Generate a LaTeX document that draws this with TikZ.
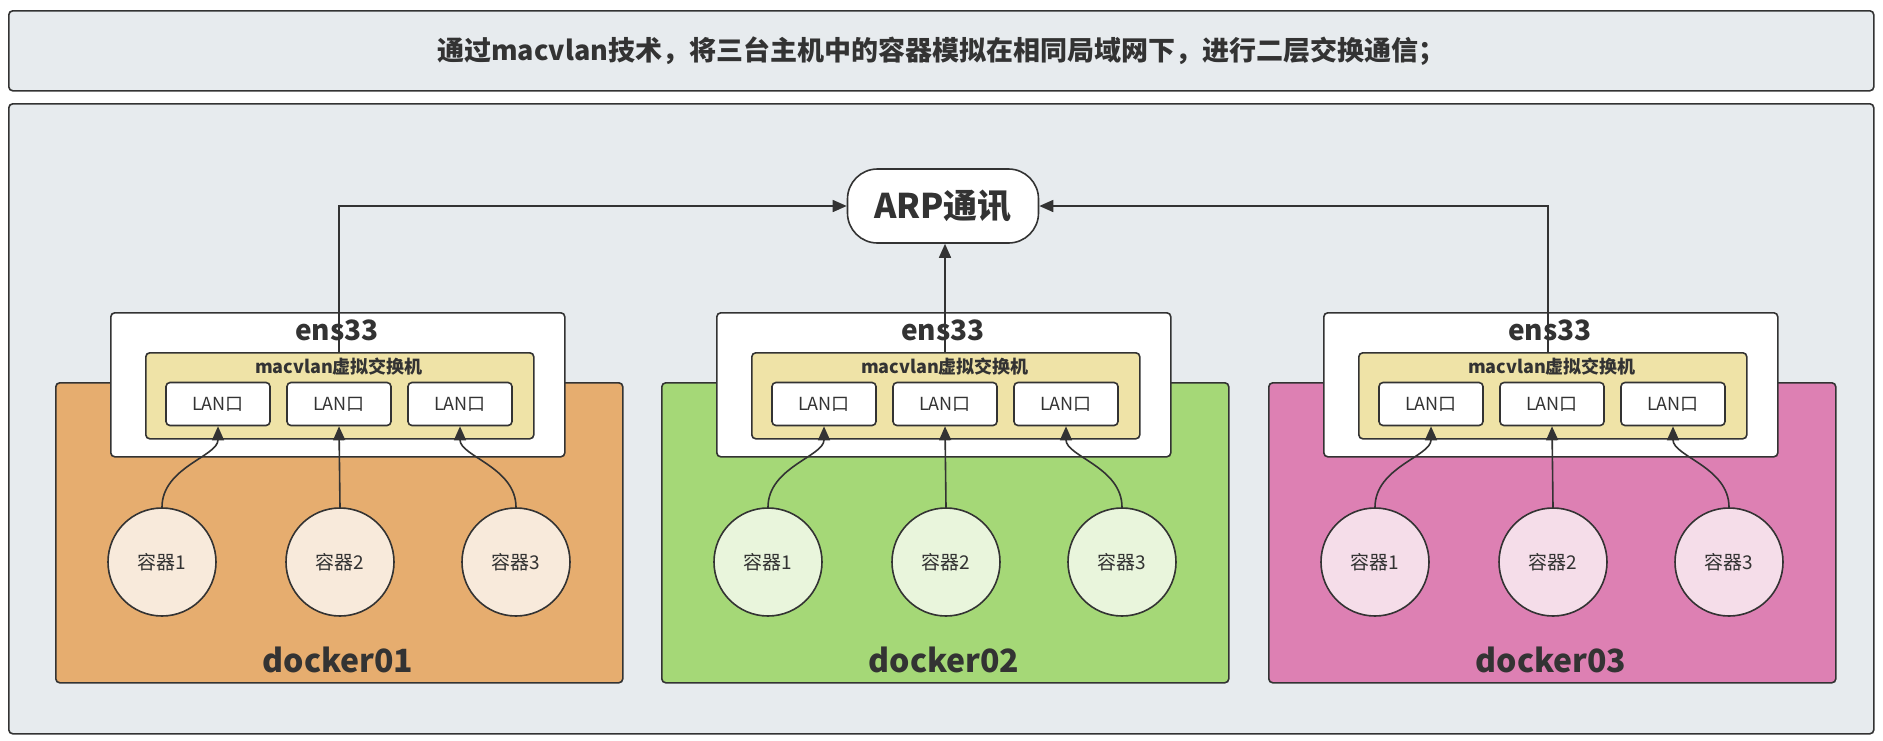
\documentclass[tikz,border=0pt]{standalone}
\usepackage{fontspec}
\setmainfont{Noto Sans CJK SC}
\usetikzlibrary{arrows.meta}
\definecolor{bgc}{HTML}{E7EBEE}
\definecolor{edge}{HTML}{333333}
\definecolor{orA}{HTML}{E6AD6F}\definecolor{orB}{HTML}{F8EADB}
\definecolor{grA}{HTML}{A5D877}\definecolor{grB}{HTML}{E9F5DC}
\definecolor{piA}{HTML}{DD80B3}\definecolor{piB}{HTML}{F5DDE9}
\definecolor{mac}{HTML}{EFE3A7}
\tikzset{
 box/.style={draw=edge,line width=1.6pt,rounded corners=4pt},
 lanbox/.style={box,fill=white,minimum width=104pt,minimum height=43pt,font=\fontsize{18}{18}\selectfont,text=edge},
 ctr/.style={draw=edge,line width=1.6pt,circle,minimum size=108pt,font=\fontsize{19}{19}\selectfont,text=edge,inner sep=0pt},
 arr/.style={draw=edge,line width=1.6pt,-{Triangle[length=14pt,width=12pt]}}
}
\begin{document}
\begin{tikzpicture}[x=1pt,y=-1pt]
\useasboundingbox (0,0) rectangle (1883,740);
\fill[white] (0,0) rectangle (1883,740);
\node[box,fill=bgc,minimum width=1865pt,minimum height=80pt,anchor=north west,font=\bfseries\fontsize{27}{27}\selectfont,text=edge] (title) at (8,10) {通过macvlan技术，将三台主机中的容器模拟在相同局域网下，进行二层交换通信；};
\node[box,fill=bgc,minimum width=1865pt,minimum height=630pt,anchor=north west] (outer) at (8,103) {};
\node[draw=edge,line width=1.6pt,rounded corners=30pt,fill=white,minimum width=191pt,minimum height=74pt,font=\bfseries\fontsize{34}{34}\selectfont,text=edge] (arp) at (943,206) {ARP通讯};
\foreach \i/\dx/\ca/\cb in {1/0/orA/orB,2/606/grA/grB,3/1213/piA/piB}{
 \begin{scope}[xshift=\dx pt]
 \node[box,fill=\ca,minimum width=567pt,minimum height=300pt,anchor=north west] (dk\i) at (55,382) {};
 \node[font=\bfseries\fontsize{32}{32}\selectfont,text=edge] (dkl\i) at (338,660) {docker0\i};
 \node[box,fill=white,minimum width=454pt,minimum height=144pt,anchor=north west] (ens\i) at (110,312) {};
 \node[font=\bfseries\fontsize{28}{28}\selectfont,text=edge] (ensl\i) at (337,330) {ens33};
 \node[box,fill=mac,minimum width=388pt,minimum height=86pt,anchor=north west] (mv\i) at (145,352) {};
 \node[font=\bfseries\fontsize{18}{18}\selectfont,text=edge] (mvl\i) at (339,367) {macvlan虚拟交换机};
 \node[lanbox] (la\i) at (218,404) {LAN口};
 \node[lanbox] (lb\i) at (339,404) {LAN口};
 \node[lanbox] (lc\i) at (460,404) {LAN口};
 \node[ctr,fill=\cb] (ca\i) at (162,562) {容器1};
 \node[ctr,fill=\cb] (cb\i) at (340,562) {容器2};
 \node[ctr,fill=\cb] (cc\i) at (516,562) {容器3};
 \draw[arr] (ca\i.north) .. controls +(0,-40) and +(0,30) .. (la\i.south);
 \draw[arr] (cb\i.north) -- (lb\i.south);
 \draw[arr] (cc\i.north) .. controls +(0,-40) and +(0,30) .. (lc\i.south);
 \end{scope}}
\draw[arr] (339,352) |- (arp.west);
\draw[arr] (945,352) -- (arp.south -| 945,0);
\draw[arr] (1548,352) |- (arp.east);
\end{tikzpicture}
\end{document}
